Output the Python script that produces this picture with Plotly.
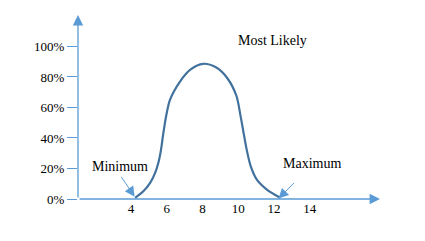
import plotly.graph_objects as go

# Curve
curve_x = [4.23, 4.69, 5.07, 5.35, 5.53, 5.68, 5.81, 5.96, 6.18, 6.76, 7.32, 8.03,
           8.75, 9.40, 9.90, 10.12, 10.30, 10.47, 10.70, 11.04, 11.60, 12.35]
curve_y = [0.8, 5.1, 10.6, 17.1, 23.7, 32.4, 43.3, 54.1, 65.0, 77.3, 84.8, 88.6,
           86.3, 79.0, 67.5, 55.0, 43.3, 32.4, 21.4, 12.7, 6.2, 0.8]

x_ticks = [4, 6, 8, 10, 12, 14]
x_tick_labels = ["4", "6", "8", "10", "12", "14"]
y_ticks = [0, 20, 40, 60, 80, 100]
y_tick_labels = ["0%", "20%", "40%", "60%", "80%", "100%"]

AX = "#5B9BD5"
FONT = "Liberation Serif"

x0, x1 = 1.034, 17.93
y0, y1 = 0, 120.6

fig = go.Figure()
fig.add_trace(go.Scatter(x=curve_x, y=curve_y, mode="lines",
                         line=dict(color="#41719C", width=2.2, shape="spline", smoothing=0.8),
                         hoverinfo="skip", cliponaxis=False))

fig.update_layout(
    width=425, height=241,
    margin=dict(l=77.5, r=45, t=15, b=41.5),
    paper_bgcolor="white", plot_bgcolor="white",
    showlegend=False,
    xaxis=dict(range=[x0, x1], showgrid=False, zeroline=False, showline=False,
               tickvals=x_ticks, ticktext=x_tick_labels, ticks="",
               tickfont=dict(family=FONT, size=13, color="black")),
    yaxis=dict(range=[y0, y1], showgrid=False, zeroline=False, showline=False,
               tickvals=y_ticks, ticktext=y_tick_labels, ticks="outside",
               ticklen=10, tickcolor=AX, tickwidth=1,
               tickfont=dict(family=FONT, size=13, color="black")),
)

# axes with arrowheads
fig.add_annotation(x=x1, y=0, ax=x0, ay=0, xref="x", yref="y", axref="x", ayref="y",
                   showarrow=True, arrowhead=2, arrowsize=1.6, arrowwidth=1.3,
                   arrowcolor=AX, text="")
fig.add_annotation(x=x0, y=y1, ax=x0, ay=0, xref="x", yref="y", axref="x", ayref="y",
                   showarrow=True, arrowhead=2, arrowsize=1.6, arrowwidth=1.3,
                   arrowcolor=AX, text="")

# labels
fig.add_annotation(x=4.2, y=1.5, ax=3.4, ay=15.5, xref="x", yref="y", axref="x", ayref="y",
                   showarrow=True, arrowhead=2, arrowsize=2, arrowwidth=1, arrowcolor=AX,
                   text="")
fig.add_annotation(x=3.4, y=21, xref="x", yref="y", text="Minimum", showarrow=False,
                   font=dict(family=FONT, size=14, color="black"))
fig.add_annotation(x=12.25, y=0.3, ax=13.2, ay=11.5, xref="x", yref="y", axref="x", ayref="y",
                   showarrow=True, arrowhead=2, arrowsize=2, arrowwidth=1, arrowcolor=AX,
                   text="")
fig.add_annotation(x=14.1, y=23, xref="x", yref="y", text="Maximum", showarrow=False,
                   font=dict(family=FONT, size=14, color="black"))
fig.add_annotation(x=11.9, y=104, xref="x", yref="y", text="Most Likely", showarrow=False,
                   font=dict(family=FONT, size=14, color="black"))

fig.write_html("out.html")
